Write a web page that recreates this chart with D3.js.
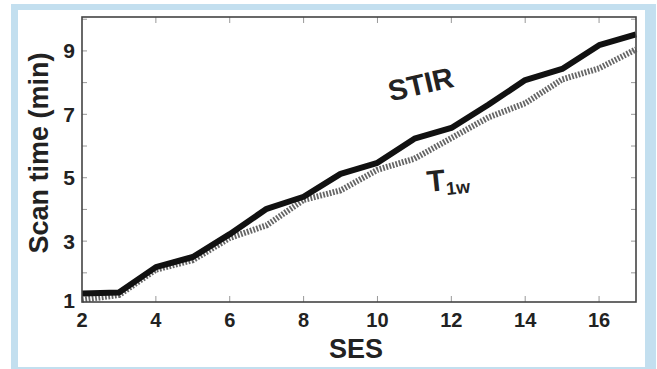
<!DOCTYPE html>
<html><head><meta charset="utf-8">
<script src="https://cdn.jsdelivr.net/npm/d3@7"></script>
<style>body{margin:0;background:#fff}svg{display:block}</style>
</head><body>
<svg id="c" width="657" height="369"></svg>
<script>
const ses = [2,3,4,5,6,7,8,9,10,11,12,13,14,15,16,17];
const stir = [1.35,1.38,2.18,2.5,3.22,4.02,4.4,5.12,5.47,6.23,6.57,7.3,8.08,8.43,9.18,9.52];
const t1w  = [1.15,1.3,2.1,2.4,3.1,3.5,4.3,4.6,5.25,5.6,6.25,6.9,7.35,8.1,8.45,9.05];
const xTickLabels = [2,4,6,8,10,12,14,16];
const yTickLabels = [1,3,5,7,9];

const svg = d3.select("#c");
svg.append("rect").attr("x",11).attr("y",4).attr("width",645).attr("height",370).attr("fill","#c3dfef");
svg.append("rect").attr("x",18).attr("y",10).attr("width",627).attr("height",357).attr("fill","#fff");

const L=82,R=636,T=17,B=302;
const x = d3.scaleLinear().domain([2,17]).range([L,R]);
const y = d3.scaleLinear().domain([1.08,10.07]).range([B,T]);
const font = "'Liberation Sans', Arial, sans-serif";

// ticks
const g = svg.append("g");
const yMinor = d3.range(2,11);
g.selectAll(".ytl").data(yMinor).join("line").attr("x1",L).attr("x2",L+5).attr("y1",d=>y(d)).attr("y2",d=>y(d)).attr("stroke","#999").attr("stroke-width",1);
g.selectAll(".ytr").data(yMinor).join("line").attr("x1",R).attr("x2",R-5).attr("y1",d=>y(d)).attr("y2",d=>y(d)).attr("stroke","#999").attr("stroke-width",1);
g.selectAll(".xtb").data(xTickLabels.slice(1)).join("line").attr("x1",d=>x(d)).attr("x2",d=>x(d)).attr("y1",B).attr("y2",B-6).attr("stroke","#999").attr("stroke-width",1);
g.selectAll(".xtt").data(xTickLabels.slice(1)).join("line").attr("x1",d=>x(d)).attr("x2",d=>x(d)).attr("y1",T).attr("y2",T+6).attr("stroke","#999").attr("stroke-width",1);

// lines
const line = (arr)=>d3.line().x((d,i)=>x(ses[i])).y(d=>y(d))(arr);
svg.append("path").attr("d",line(t1w)).attr("fill","none").attr("stroke","#666").attr("stroke-width",6).attr("stroke-dasharray","1.8,1.5");
svg.append("path").attr("d",line(stir)).attr("fill","none").attr("stroke","#111").attr("stroke-width",6).attr("stroke-linejoin","round");

// frame
svg.append("rect").attr("x",L).attr("y",T).attr("width",R-L).attr("height",B-T).attr("fill","none").attr("stroke","#444").attr("stroke-width",1.6);

// tick labels
svg.selectAll(".xl").data(xTickLabels).join("text").attr("x",d=>x(d)).attr("y",327).attr("text-anchor","middle")
  .attr("font-family",font).attr("font-weight","bold").attr("font-size",20).attr("fill","#222").text(d=>d);
svg.selectAll(".yl").data(yTickLabels).join("text").attr("x",75).attr("y",d=>d===1?300:y(d)).attr("dy","0.36em").attr("text-anchor","end")
  .attr("font-family",font).attr("font-weight","bold").attr("font-size",21).attr("fill","#222").text(d=>d);

// axis titles
svg.append("text").attr("x",356).attr("y",358).attr("text-anchor","middle").attr("font-family",font).attr("font-weight","bold").attr("font-size",27).attr("fill","#222").text("SES");
svg.append("text").attr("transform","translate(48,153) rotate(-90)").attr("text-anchor","middle").attr("font-family",font).attr("font-weight","bold").attr("font-size",27).attr("fill","#222").text("Scan time (min)");

// series labels
svg.append("text").attr("transform","translate(423,94) rotate(-13)").attr("text-anchor","middle").attr("font-family",font).attr("font-weight","bold").attr("font-size",29).attr("fill","#222").text("STIR");
const tl = svg.append("text").attr("transform","translate(428,192) rotate(-6)").attr("font-family",font).attr("font-weight","bold").attr("font-size",30).attr("fill","#222");
tl.append("tspan").text("T");
tl.append("tspan").attr("dy",5).attr("font-size",18).text("1w");
</script>
</body></html>
